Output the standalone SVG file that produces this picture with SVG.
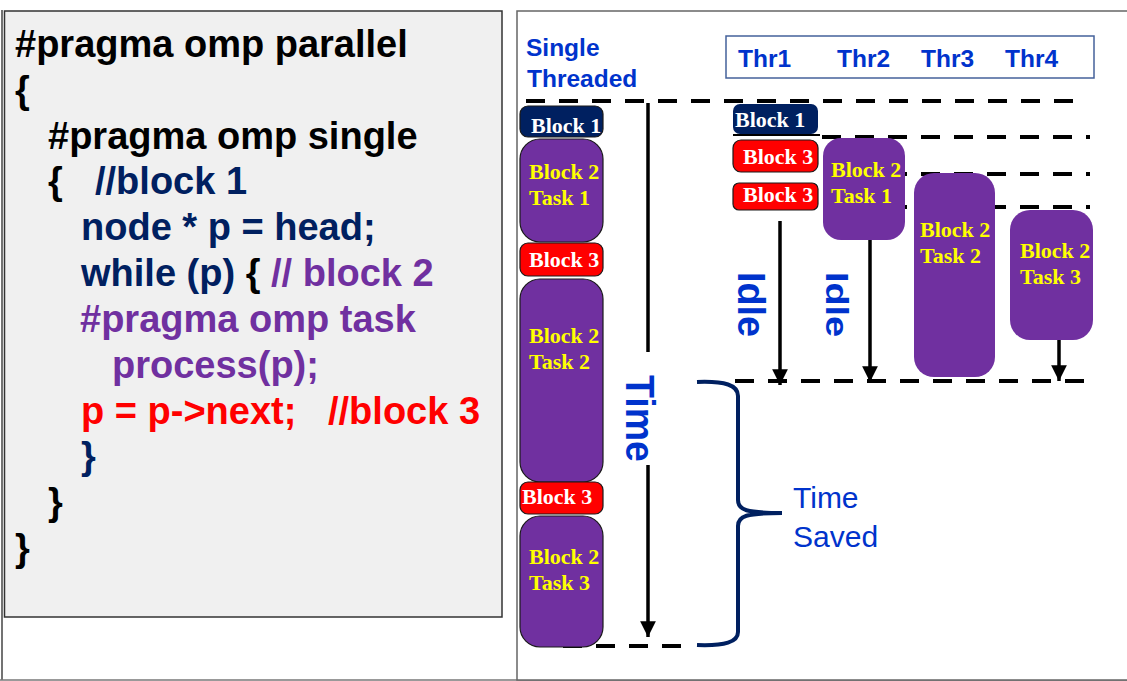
<svg xmlns="http://www.w3.org/2000/svg" width="1127" height="681" viewBox="0 0 1127 681">
<defs>
<style>
.code{font-family:"Liberation Sans",Arial,sans-serif;font-weight:bold;font-size:38px}
.blk{font-family:"Liberation Serif","Times New Roman",serif;font-weight:bold;font-size:22px}
.w{fill:#ffffff}
.y{fill:#ffff00}
.hdr{font-family:"Liberation Sans",Arial,sans-serif;font-weight:bold;font-size:24.5px;fill:#0033cc}
.big{font-family:"Liberation Sans",Arial,sans-serif;font-weight:bold;fill:#0033cc}
.dash{stroke:#000;stroke-width:4;stroke-dasharray:19 14;fill:none}
.arr{stroke:#000;stroke-width:3.5;fill:none}
.navy{fill:#002060}
.red{fill:#ff0000}
.purple{fill:#7030a0}
.ol{stroke:#1a1a1a;stroke-width:1.2}
</style>
<marker id="ah" viewBox="0 0 10 10" refX="10" refY="5" markerWidth="4.5" markerHeight="4.5" markerUnits="strokeWidth" orient="auto">
<path d="M0,0 L10,5 L0,10 Z" fill="#000"/>
</marker>
</defs>
<rect x="0" y="0" width="1127" height="681" fill="#ffffff"/>
<g id="frames">
<line x1="2" y1="10" x2="2" y2="680" stroke="#444" stroke-width="1.5"/>
<line x1="0" y1="680" x2="1127" y2="680" stroke="#777" stroke-width="1.5"/>
<rect x="4.5" y="11" width="497.5" height="606" fill="#f0f0f0" stroke="#333" stroke-width="1.5"/>
<rect x="517" y="11" width="615" height="669" fill="#ffffff" stroke="#666" stroke-width="1.5"/>
</g>
<g id="code" class="code">
<text x="15" y="57" fill="#000">#pragma omp parallel</text>
<text x="15" y="103" fill="#000">{</text>
<text x="48" y="149" fill="#000">#pragma omp single</text>
<text x="48" y="194" fill="#000">{</text>
<text x="95" y="194" fill="#002060">//block 1</text>
<text x="81" y="240" fill="#002060">node * p = head;</text>
<text x="81" y="286" fill="#002060">while (p) <tspan fill="#000">{</tspan> <tspan fill="#7030a0">// block 2</tspan></text>
<text x="80" y="332" fill="#7030a0">#pragma omp task</text>
<text x="112" y="378" fill="#7030a0">process(p);</text>
<text x="81" y="424" fill="#ff0000">p = p-&gt;next;</text>
<text x="328" y="424" fill="#ff0000">//block 3</text>
<text x="81" y="469" fill="#002060">}</text>
<text x="48" y="515" fill="#000">}</text>
<text x="15" y="561" fill="#000">}</text>
</g>
<g id="header-single" class="hdr">
<text x="526" y="56">Single</text>
<text x="527" y="87">Threaded</text>
</g>
<g id="header-threads">
<rect x="726" y="36" width="368" height="42" fill="#fff" stroke="#44619a" stroke-width="1.5"/>
<text class="hdr" x="738" y="67">Thr1</text>
<text class="hdr" x="837" y="67">Thr2</text>
<text class="hdr" x="921" y="67">Thr3</text>
<text class="hdr" x="1005" y="67">Thr4</text>
</g>
<g id="connectors">
<line class="dash" x1="526" y1="101" x2="1075" y2="101"/>
<line x1="733" y1="135" x2="820" y2="135" stroke="#000" stroke-width="2"/>
<line class="dash" x1="822" y1="137" x2="1090" y2="137"/>
<line class="dash" x1="888" y1="174" x2="1090" y2="174"/>
<line class="dash" x1="888" y1="207" x2="1090" y2="207"/>
<line class="dash" x1="735" y1="381" x2="1090" y2="381"/>
<line class="dash" x1="563" y1="646" x2="694" y2="646"/>
<line class="arr" x1="648" y1="103" x2="648" y2="352"/>
<line class="arr" x1="648" y1="465" x2="648" y2="637" marker-end="url(#ah)"/>
<line class="arr" x1="780" y1="221" x2="780" y2="385" marker-end="url(#ah)"/>
<line class="arr" x1="870" y1="240" x2="870" y2="382" marker-end="url(#ah)"/>
<line class="arr" x1="1059" y1="340" x2="1059" y2="381" marker-end="url(#ah)"/>
<path d="M697,382 C725,381 738,385 738,396 L738,500 C738,510 746,513 782,513 C746,513 738,516 738,526 L738,632 C738,642 725,646 697,645" fill="none" stroke="#002060" stroke-width="4"/>
</g>
<g id="st-block1">
<rect class="navy ol" x="520" y="106" width="83" height="31" rx="8"/>
<text class="blk w" x="531" y="133">Block 1</text>
</g>
<g id="st-task1">
<rect class="purple ol" x="520" y="139" width="83" height="103" rx="20"/>
<text class="blk y" x="529" y="179">Block 2</text>
<text class="blk y" x="529" y="205">Task 1</text>
</g>
<g id="st-block3a">
<rect class="red ol" x="520" y="243" width="83" height="33" rx="8"/>
<text class="blk w" x="529" y="267">Block 3</text>
</g>
<g id="st-task2">
<rect class="purple ol" x="520" y="279" width="83" height="203" rx="20"/>
<text class="blk y" x="529" y="343">Block 2</text>
<text class="blk y" x="529" y="369">Task 2</text>
</g>
<g id="st-block3b">
<rect class="red ol" x="520" y="482" width="83" height="32" rx="8"/>
<text class="blk w" x="522" y="504">Block 3</text>
</g>
<g id="st-task3">
<rect class="purple ol" x="520" y="516" width="83" height="131" rx="20"/>
<text class="blk y" x="529" y="564">Block 2</text>
<text class="blk y" x="529" y="590">Task 3</text>
</g>
<g id="t1-block1">
<rect class="navy" x="733" y="104" width="85" height="30" rx="7"/>
<text class="blk w" x="735" y="127">Block 1</text>
</g>
<g id="t1-block3a">
<rect class="red ol" x="733" y="140" width="85" height="32" rx="8"/>
<text class="blk w" x="743" y="164">Block 3</text>
</g>
<g id="t1-block3b">
<rect class="red ol" x="733" y="183" width="85" height="27" rx="6"/>
<text class="blk w" x="743" y="202">Block 3</text>
</g>
<g id="t2-task1">
<rect class="purple" x="823" y="138" width="82" height="102" rx="18"/>
<text class="blk y" x="831" y="177">Block 2</text>
<text class="blk y" x="831" y="203">Task 1</text>
</g>
<g id="t3-task2">
<rect class="purple" x="914" y="173" width="81" height="204" rx="20"/>
<text class="blk y" x="920" y="237">Block 2</text>
<text class="blk y" x="920" y="263">Task 2</text>
</g>
<g id="t4-task3">
<rect class="purple" x="1010" y="210" width="83" height="130" rx="20"/>
<text class="blk y" x="1020" y="258">Block 2</text>
<text class="blk y" x="1020" y="284">Task 3</text>
</g>
<g id="label-time">
<text class="big" font-size="40" textLength="87" lengthAdjust="spacingAndGlyphs" transform="translate(626,375) rotate(90)">Time</text>
</g>
<g id="label-idle1">
<text class="big" font-size="38" textLength="65" lengthAdjust="spacingAndGlyphs" transform="translate(738,272) rotate(90)">Idle</text>
</g>
<g id="label-idle2">
<text class="big" font-size="31" textLength="65" lengthAdjust="spacingAndGlyphs" transform="translate(826,272) rotate(90)">Idle</text>
</g>
<g id="label-saved" font-family="'Liberation Sans',Arial,sans-serif" font-size="30" fill="#0033cc">
<text x="793" y="508">Time</text>
<text x="793" y="547">Saved</text>
</g>
</svg>
